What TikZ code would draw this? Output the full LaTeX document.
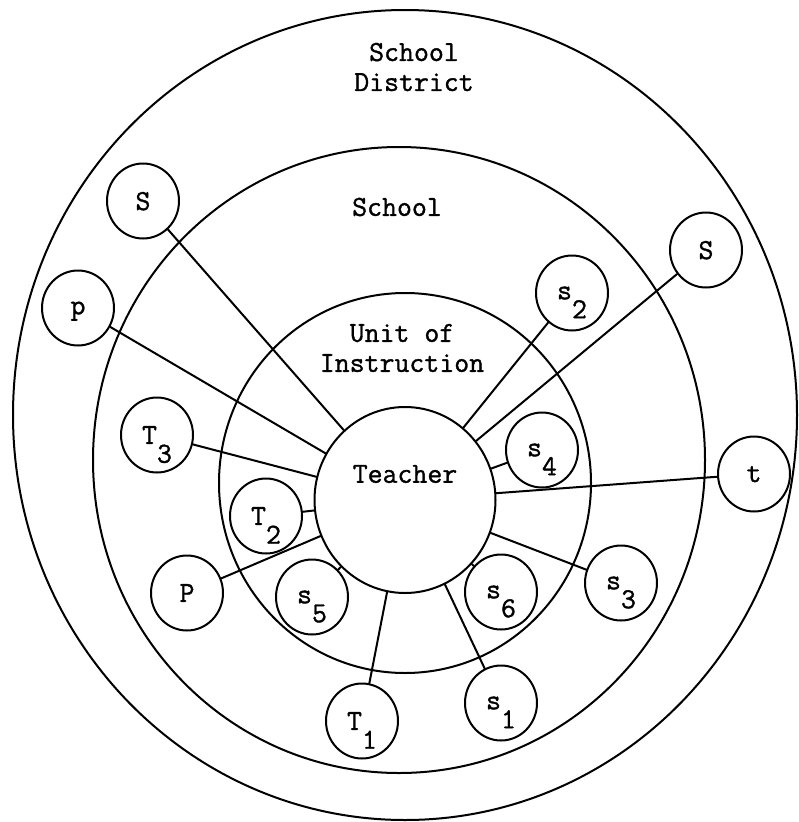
\documentclass[tikz,border=0pt]{standalone}
\usepackage{fontspec}
\newfontfamily\typew[FakeBold=1.2]{Latin Modern Mono}
\usetikzlibrary{shapes.geometric}
\newcommand{\lowd}[2]{#1\raisebox{-0.65em}{#2}\hspace{0.5em}}
\tikzset{
  member/.style={draw, ellipse, minimum width=72pt, minimum height=75pt, inner sep=0pt, text depth=0pt},
}
\begin{document}
\begin{tikzpicture}[x=1pt, y=-1pt, line width=2pt, line join=round, line cap=round, font=\typew\fontsize{29}{30}\selectfont]
			\useasboundingbox (0,0) rectangle (798,822);
			% the three rings
			\draw (405,415) ellipse [x radius=392pt, y radius=405pt];
			\draw (399,460) ellipse [x radius=306pt, y radius=313pt];
			\draw (405,483) ellipse [x radius=186pt, y radius=190pt];
			\node[align=center] (district) at (414,67) {School\\District};
			\node (school) at (397,207) {School};
			\node[align=center] (unit) at (402,348) {Unit of\\Instruction};
			\node[draw, ellipse, minimum width=181pt, minimum height=186pt, inner sep=0pt] (teacher) at (405,500) {};
			\node (tname) at ([yshift=26pt]teacher.center) {Teacher};
			% people round the teacher
			\node[member] (Sl) at (143,201) {S};
			\node[member] (pa) at (78,308) {p};
			\node[member] (s2) at (572,293) {\lowd{s}{2}};
			\node[member] (Sr) at (706,250) {S};
			\node[member] (T3) at (157,435) {\lowd{T}{3}};
			\node[member] (s4) at (542,450) {\lowd{s}{4}};
			\node[member] (t) at (754,474) {t};
			\node[member] (T2) at (266,516) {\lowd{T}{2}};
			\node[member] (Pb) at (187,593) {P};
			\node[member] (s5) at (312,597) {\lowd{s}{5}};
			\node[member] (s6) at (501,592) {\lowd{s}{6}};
			\node[member] (s3) at (621,583) {\lowd{s}{3}};
			\node[member] (s1) at (501,703) {\lowd{s}{1}};
			\node[member] (T1) at (362,721) {\lowd{T}{1}};
			\draw (teacher) -- (Sl) (teacher) -- (pa) (teacher) -- (T3) (teacher) -- (T2);
			\draw (teacher) -- (Pb) (teacher) -- (s5) (teacher) -- (T1) (teacher) -- (s1);
			\draw (teacher) -- (s6) (teacher) -- (s3) (teacher) -- (t) (teacher) -- (s4);
			\draw (teacher) -- (Sr) (teacher) -- (s2);
		\end{tikzpicture}
\end{document}
